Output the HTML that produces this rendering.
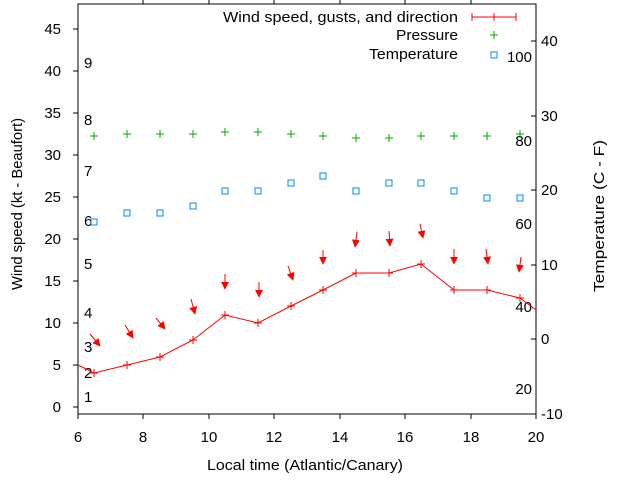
<!DOCTYPE html>
<html><head><meta charset="utf-8"><style>
html,body{margin:0;padding:0;background:#fff}
svg{display:block;font-family:"Liberation Sans",sans-serif}
</style></head><body>
<svg width="640" height="480" viewBox="0 0 640 480" xmlns="http://www.w3.org/2000/svg">
<defs>
<marker id="ah" viewBox="0 0 10 10" refX="9" refY="5" markerWidth="8" markerHeight="8" markerUnits="userSpaceOnUse" orient="auto"><path d="M0,0 L10,5 L0,10 z" fill="#f00"/></marker>
</defs>
<rect x="78" y="4" width="458" height="410" fill="none" stroke="#000" stroke-width="1"/>
<g stroke="#000" stroke-width="1">
<line x1="73" y1="407" x2="78" y2="407"/><line x1="73" y1="365" x2="78" y2="365"/><line x1="73" y1="323" x2="78" y2="323"/><line x1="73" y1="281" x2="78" y2="281"/><line x1="73" y1="239" x2="78" y2="239"/><line x1="73" y1="197" x2="78" y2="197"/><line x1="73" y1="155" x2="78" y2="155"/><line x1="73" y1="113" x2="78" y2="113"/><line x1="73" y1="71" x2="78" y2="71"/><line x1="73" y1="29" x2="78" y2="29"/>
<line x1="531" y1="414" x2="536" y2="414"/><line x1="531" y1="339" x2="536" y2="339"/><line x1="531" y1="265" x2="536" y2="265"/><line x1="531" y1="190" x2="536" y2="190"/><line x1="531" y1="116" x2="536" y2="116"/><line x1="531" y1="41" x2="536" y2="41"/>
<line x1="78" y1="414" x2="78" y2="419"/><line x1="143" y1="414" x2="143" y2="419"/><line x1="209" y1="414" x2="209" y2="419"/><line x1="274" y1="414" x2="274" y2="419"/><line x1="340" y1="414" x2="340" y2="419"/><line x1="405" y1="414" x2="405" y2="419"/><line x1="471" y1="414" x2="471" y2="419"/><line x1="536" y1="414" x2="536" y2="419"/>
<line x1="143" y1="4" x2="143" y2="0"/><line x1="209" y1="4" x2="209" y2="0"/><line x1="274" y1="4" x2="274" y2="0"/><line x1="340" y1="4" x2="340" y2="0"/><line x1="405" y1="4" x2="405" y2="0"/><line x1="471" y1="4" x2="471" y2="0"/>
</g>
<g font-size="15" fill="#000" text-anchor="end">
<text x="61" y="412">0</text><text x="61" y="370">5</text><text x="61" y="328">10</text><text x="61" y="286">15</text><text x="61" y="244">20</text><text x="61" y="202">25</text><text x="61" y="160">30</text><text x="61" y="118">35</text><text x="61" y="76">40</text><text x="61" y="34">45</text>
</g>
<g font-size="15" fill="#000">
<text x="541" y="419">-10</text><text x="541" y="344">0</text><text x="541" y="270">10</text><text x="541" y="195">20</text><text x="541" y="121">30</text><text x="541" y="46">40</text>
</g>
<g font-size="15" fill="#000" text-anchor="middle">
<text x="78" y="442">6</text><text x="143" y="442">8</text><text x="209" y="442">10</text><text x="274" y="442">12</text><text x="340" y="442">14</text><text x="405" y="442">16</text><text x="471" y="442">18</text><text x="536" y="442">20</text>
</g>
<text font-size="15" x="207" y="470" textLength="196" lengthAdjust="spacingAndGlyphs">Local time (Atlantic/Canary)</text>
<text font-size="15" text-anchor="middle" transform="translate(22,204) rotate(-90)" textLength="172" lengthAdjust="spacingAndGlyphs">Wind speed (kt - Beaufort)</text>
<text font-size="15" text-anchor="middle" transform="translate(604,216) rotate(-90)" textLength="152" lengthAdjust="spacingAndGlyphs">Temperature (C - F)</text>
<g font-size="15" fill="#000">
<text x="84" y="402">1</text><text x="84" y="378">2</text><text x="84" y="352">3</text><text x="84" y="318">4</text><text x="84" y="269">5</text><text x="84" y="226">6</text><text x="84" y="176">7</text><text x="84" y="125">8</text><text x="84" y="68">9</text>
</g>
<g font-size="15" fill="#000" text-anchor="end">
<text x="532" y="394">20</text><text x="532" y="312">40</text><text x="532" y="229">60</text><text x="532" y="146">80</text><text x="532" y="62">100</text>
</g>
<g font-size="15" fill="#000">
<text x="223" y="22" textLength="235" lengthAdjust="spacingAndGlyphs">Wind speed, gusts, and direction</text>
<text x="396" y="40" textLength="62" lengthAdjust="spacingAndGlyphs">Pressure</text>
<text x="369" y="59" textLength="89" lengthAdjust="spacingAndGlyphs">Temperature</text>
</g>
<g stroke="#f00" stroke-width="1" fill="none">
<line x1="472" y1="17" x2="516" y2="17"/><line x1="472" y1="13" x2="472" y2="21"/><line x1="516" y1="13" x2="516" y2="21"/><line x1="494" y1="13" x2="494" y2="21"/>
<polyline points="78,365 94,373 127,365 160,357 193,340 225,315 258,323 291,306 323,290 356,273 389,273 421,264 454,290 487,290 520,298 536,310"/>
</g>
<g stroke="#f00" stroke-width="1">
<path d="M90,373h8M94,369v8 M123,365h8M127,361v8 M156,357h8M160,353v8 M189,340h8M193,336v8 M221,315h8M225,311v8 M254,323h8M258,319v8 M287,306h8M291,302v8 M319,290h8M323,286v8 M352,273h8M356,269v8 M385,273h8M389,269v8 M417,264h8M421,260v8 M450,290h8M454,286v8 M483,290h8M487,286v8 M516,298h8M520,294v8"/>
</g>
<g stroke="#0a0" stroke-width="1">
<path d="M490,35h8M494,31v8 M90,136h8M94,132v8 M123,134h8M127,130v8 M156,134h8M160,130v8 M189,134h8M193,130v8 M221,132h8M225,128v8 M254,132h8M258,128v8 M287,134h8M291,130v8 M319,136h8M323,132v8 M352,138h8M356,134v8 M385,138h8M389,134v8 M417,136h8M421,132v8 M450,136h8M454,132v8 M483,136h8M487,132v8 M516,134h8M520,130v8"/>
</g>
<g stroke="#08f" stroke-width="1" fill="none">
<rect x="491" y="52" width="6" height="6"/>
<rect x="91" y="219" width="6" height="6"/><rect x="124" y="210" width="6" height="6"/><rect x="157" y="210" width="6" height="6"/><rect x="190" y="203" width="6" height="6"/><rect x="222" y="188" width="6" height="6"/><rect x="255" y="188" width="6" height="6"/><rect x="288" y="180" width="6" height="6"/><rect x="320" y="173" width="6" height="6"/><rect x="353" y="188" width="6" height="6"/><rect x="386" y="180" width="6" height="6"/><rect x="418" y="180" width="6" height="6"/><rect x="451" y="188" width="6" height="6"/><rect x="484" y="195" width="6" height="6"/><rect x="517" y="195" width="6" height="6"/>
</g>
<g stroke="#f00" stroke-width="1" marker-end="url(#ah)">
<line x1="90" y1="334" x2="100" y2="346"/>
<line x1="125" y1="325" x2="133" y2="338"/>
<line x1="156" y1="318" x2="165" y2="329"/>
<line x1="191" y1="299" x2="195" y2="314"/>
<line x1="225" y1="274" x2="225" y2="289"/>
<line x1="259" y1="282" x2="259" y2="297"/>
<line x1="288" y1="266" x2="293" y2="280"/>
<line x1="323" y1="250" x2="323" y2="264"/>
<line x1="357" y1="232" x2="355" y2="247"/>
<line x1="389" y1="231" x2="390" y2="246"/>
<line x1="420" y1="224" x2="423" y2="238"/>
<line x1="454" y1="249" x2="454" y2="264"/>
<line x1="486" y1="249" x2="488" y2="264"/>
<line x1="521" y1="257" x2="519" y2="272"/>
</g>
</svg>
</body></html>
